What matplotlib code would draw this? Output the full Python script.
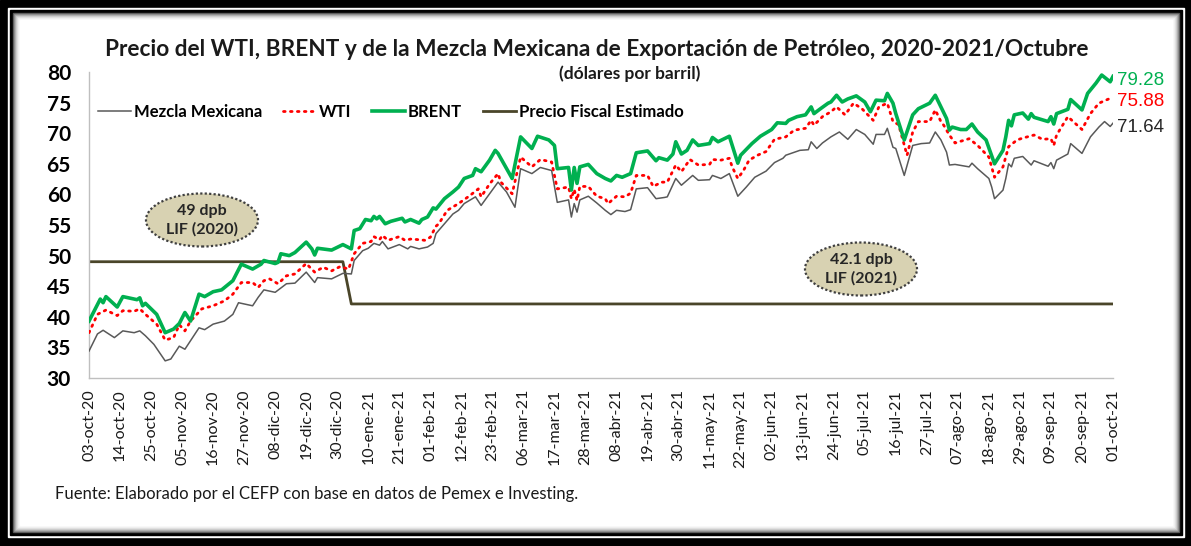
import matplotlib
matplotlib.use("Agg")
import matplotlib.pyplot as plt
from matplotlib.patches import Rectangle, Ellipse

# Datos (dias contados desde el 03-oct-20, precio en dolares por barril)
brent_dias = [0, 4, 5, 6, 10, 12, 17, 18, 19, 20, 24, 27, 30, 32, 34, 36, 39, 41, 44, 47,
              51, 54, 58, 61, 62, 66, 67, 68, 71, 73, 77, 79, 80, 81, 86, 90, 93, 94, 96, 98,
              100, 101, 102, 103, 105, 107, 111, 112, 114, 117, 118, 120, 122, 123, 126, 129, 131, 133, 136, 137,
              139, 142, 144, 145, 150, 153, 157, 159, 163, 165, 166, 170, 171, 172, 173, 174, 177, 180, 183, 185,
              187, 189, 192, 194, 198, 201, 202, 205, 207, 208, 210, 212, 214, 216, 220, 221, 223, 227, 230, 231,
              235, 238, 242, 244, 247, 248, 251, 254, 256, 257, 259, 262, 263, 265, 267, 269, 272, 275, 277, 279,
              282, 283, 285, 286, 289, 292, 294, 298, 300, 302, 304, 305, 306, 309, 311, 313, 315, 318, 321, 324,
              325, 326, 327, 328, 331, 333, 334, 335, 340, 341, 342, 343, 347, 348, 352, 354, 357, 359, 362, 363]
brent = [39.3, 42.9, 42.3, 43.3, 41.6, 43.3, 42.8, 43.1, 41.8, 42.2, 40.4, 37.4, 38.0, 38.9, 40.7, 39.3, 43.7, 43.3, 44.1, 44.4,
         45.9, 48.6, 47.8, 48.6, 49.2, 48.7, 48.9, 50.3, 50.0, 50.5, 52.2, 51.1, 50.1, 51.2, 50.9, 51.8, 51.1, 54.1, 54.4, 55.9,
         55.7, 56.4, 56.0, 56.4, 55.2, 55.6, 56.1, 55.5, 55.9, 55.3, 55.9, 56.3, 57.8, 57.6, 59.3, 60.4, 61.2, 62.6, 63.1, 64.2,
         63.7, 65.6, 67.2, 66.7, 62.6, 69.4, 67.5, 69.5, 68.9, 68.0, 64.2, 64.4, 60.7, 64.4, 61.8, 64.5, 64.9, 63.4, 62.6, 62.2,
         63.1, 62.8, 63.4, 66.8, 67.1, 65.5, 66.0, 65.6, 66.6, 68.6, 66.6, 67.2, 68.9, 68.0, 68.3, 69.3, 68.6, 69.5, 65.1, 66.4,
         68.3, 69.5, 70.6, 71.7, 71.6, 72.1, 72.7, 73.0, 74.3, 73.2, 73.9, 74.9, 75.1, 76.2, 75.1, 75.6, 76.1, 75.1, 73.5, 75.4,
         75.3, 76.5, 74.9, 73.2, 68.9, 73.0, 74.0, 74.9, 76.2, 74.3, 72.4, 70.5, 71.0, 70.6, 70.6, 71.5, 70.2, 68.9, 65.0, 67.2,
         69.4, 72.1, 71.2, 73.0, 73.3, 72.3, 73.2, 72.6, 71.9, 72.7, 71.5, 73.2, 73.9, 75.5, 73.8, 76.5, 78.2, 79.5, 78.4, 79.28]

wti_dias = [0, 3, 6, 10, 12, 16, 18, 20, 24, 27, 30, 32, 34, 36, 40, 44, 48, 51, 54, 58,
            60, 62, 64, 67, 70, 73, 77, 80, 83, 86, 89, 92, 94, 97, 100, 101, 103, 104, 106, 110,
            112, 114, 117, 119, 121, 123, 124, 127, 131, 135, 138, 139, 142, 145, 146, 150, 153, 157, 160, 164,
            166, 170, 171, 172, 173, 174, 177, 180, 183, 184, 187, 190, 192, 194, 198, 200, 203, 205, 208, 210,
            213, 216, 220, 221, 224, 227, 228, 230, 232, 234, 237, 240, 243, 247, 250, 254, 256, 257, 260, 263,
            265, 268, 271, 274, 278, 280, 283, 285, 287, 290, 292, 294, 298, 300, 302, 303, 305, 307, 312, 315,
            319, 321, 324, 326, 329, 331, 335, 338, 341, 342, 343, 347, 352, 355, 358, 361, 363]
wti = [37.4, 40.4, 41.1, 40.2, 41.0, 40.9, 41.3, 40.4, 38.8, 36.2, 36.6, 38.7, 37.7, 39.3, 41.3, 41.8, 42.6, 43.7, 45.6, 45.6,
       44.8, 45.9, 46.2, 45.4, 46.7, 47.0, 48.7, 47.3, 48.1, 47.5, 48.2, 47.8, 50.3, 52.0, 52.3, 53.1, 52.6, 53.3, 52.5, 53.1,
       52.5, 52.7, 52.6, 52.5, 53.0, 54.8, 55.2, 57.4, 58.5, 59.8, 60.9, 59.6, 61.7, 63.4, 62.0, 60.1, 66.1, 64.5, 65.7, 65.3,
       60.9, 61.2, 59.3, 60.8, 59.0, 61.3, 61.3, 59.7, 59.3, 58.5, 59.7, 59.6, 60.2, 63.1, 63.1, 61.3, 62.0, 62.0, 64.8, 63.7,
       65.7, 64.8, 64.9, 65.7, 65.6, 65.9, 64.5, 62.6, 63.9, 65.6, 66.4, 67.0, 69.0, 69.4, 70.5, 70.8, 72.1, 71.3, 72.7, 73.5,
       74.3, 73.0, 74.9, 74.0, 72.1, 74.3, 74.9, 71.9, 71.4, 66.4, 70.2, 71.9, 71.9, 73.8, 71.9, 71.3, 69.7, 68.4, 69.1, 68.0,
       66.1, 62.8, 64.5, 67.8, 68.9, 69.2, 69.7, 69.0, 69.1, 68.0, 69.7, 72.7, 70.6, 73.2, 74.9, 75.5, 75.88]

mezcla_dias = [0, 3, 5, 7, 9, 12, 16, 18, 20, 23, 27, 29, 32, 34, 36, 39, 41, 44, 48, 51,
               53, 58, 60, 62, 66, 70, 73, 77, 80, 81, 86, 90, 93, 94, 97, 99, 101, 103, 104, 106,
               110, 113, 114, 117, 120, 122, 123, 126, 129, 131, 133, 137, 139, 142, 145, 148, 151, 153, 157, 160,
               164, 166, 170, 171, 172, 173, 174, 177, 180, 183, 185, 187, 190, 192, 194, 198, 201, 204, 205, 208,
               210, 214, 216, 220, 221, 224, 227, 230, 233, 236, 240, 243, 246, 247, 252, 255, 256, 258, 260, 263,
               266, 269, 272, 275, 278, 279, 282, 283, 285, 286, 289, 292, 295, 298, 300, 302, 304, 305, 307, 312,
               313, 315, 319, 320, 321, 324, 325, 326, 327, 328, 331, 334, 335, 340, 341, 342, 343, 347, 348, 352,
               355, 358, 360, 362, 363]
mezcla = [34.4, 37.2, 37.8, 37.2, 36.6, 37.7, 37.4, 37.7, 36.9, 35.5, 32.8, 33.1, 35.2, 34.7, 36.1, 38.2, 37.9, 38.8, 39.3, 40.4,
          42.3, 41.8, 43.2, 44.4, 44.0, 45.4, 45.5, 47.3, 45.6, 46.4, 46.2, 47.1, 47.0, 49.2, 50.8, 51.2, 52.0, 51.7, 52.3, 51.1,
          51.8, 51.1, 51.5, 51.1, 51.4, 52.0, 53.6, 55.2, 56.8, 57.4, 58.5, 59.6, 58.2, 60.1, 62.0, 60.4, 57.9, 64.2, 63.4, 64.4,
          63.9, 58.7, 59.1, 56.3, 58.5, 57.1, 59.1, 59.7, 58.6, 57.4, 56.7, 57.4, 57.2, 57.5, 60.9, 61.1, 59.3, 59.5, 59.6, 62.6,
          61.5, 63.1, 62.3, 62.4, 63.1, 62.6, 63.4, 59.7, 61.2, 62.8, 63.8, 65.2, 65.9, 66.4, 67.2, 67.3, 68.6, 67.5, 68.4, 69.4,
          70.2, 69.0, 70.6, 69.8, 68.2, 69.8, 69.8, 70.8, 67.7, 67.5, 63.1, 68.0, 68.3, 68.4, 70.2, 68.9, 66.9, 64.8, 64.9, 64.5,
          65.1, 64.2, 62.6, 61.2, 59.3, 60.7, 62.6, 65.0, 64.5, 65.9, 66.2, 64.8, 65.5, 64.6, 65.2, 64.2, 65.6, 66.6, 68.3, 66.7,
          69.4, 71.0, 71.9, 71.1, 71.64]

fiscal_dias = [0, 90, 93, 363]
fiscal = [49, 49, 42.1, 42.1]

etiquetas = ['03-oct-20', '14-oct-20', '25-oct-20', '05-nov-20', '16-nov-20', '27-nov-20', '08-dic-20',
             '19-dic-20', '30-dic-20', '10-ene-21', '21-ene-21', '01-feb-21', '12-feb-21', '23-feb-21',
             '06-mar-21', '17-mar-21', '28-mar-21', '08-abr-21', '19-abr-21', '30-abr-21', '11-may-21',
             '22-may-21', '02-jun-21', '13-jun-21', '24-jun-21', '05-jul-21', '16-jul-21', '27-jul-21',
             '07-ago-21', '18-ago-21', '29-ago-21', '09-sep-21', '20-sep-21', '01-oct-21']
ticks_y = [30, 35, 40, 45, 50, 55, 60, 65, 70, 75, 80]

verde = '#00b050'
rojo = '#ff0000'
gris = '#595959'
cafe = '#4a4529'
fuente = 'Lato'

W, H = 1191, 546
fig = plt.figure(figsize=(W / 100, H / 100), dpi=100)

def fx(px):
    return px / W

def fy(py):
    return 1 - py / H

# Marco negro con linea doble y sombra
fig.patches.append(Rectangle((0, 0), 1, 1, transform=fig.transFigure, color='black', zorder=-10))
fig.patches.append(Rectangle((fx(8), fy(537)), fx(1184 - 8), 529 / H, transform=fig.transFigure,
                             color='white', zorder=-9))
fig.patches.append(Rectangle((fx(10), fy(535)), fx(1182 - 10), 525 / H, transform=fig.transFigure,
                             color='black', zorder=-8))
sombra = ['#555555', '#888888', '#aaaaaa', '#c8c8c8', '#dddddd', '#eeeeee', '#f7f7f7', 'white']
for i, c in enumerate(sombra):
    x0, y0, x1, y1 = 13 + i, 13 + i, 1179 - i, 532 - i
    fig.patches.append(Rectangle((fx(x0), fy(y1)), fx(x1 - x0), (y1 - y0) / H,
                                 transform=fig.transFigure, color=c, zorder=-7 + i * 0.1))

ax = fig.add_axes([fx(89), fy(378), fx(1113 - 89), (378 - 72) / H])
ax.set_facecolor('none')

ax.plot(mezcla_dias, mezcla, color=gris, lw=1.1, label='Mezcla Mexicana', zorder=3)
ax.plot(wti_dias, wti, color=rojo, lw=2.0, ls=(0, (0.6, 1.9)), dash_capstyle='round',
        label='WTI', zorder=4)
ax.plot(brent_dias, brent, color=verde, lw=2.6, label='BRENT', zorder=5)
ax.plot(fiscal_dias, fiscal, color=cafe, lw=2.0, label='Precio Fiscal Estimado', zorder=2)

ax.set_xlim(0, 363)
ax.set_ylim(30, 80)
ax.set_xticks(range(0, 364, 11))
ax.set_xticklabels(etiquetas, rotation=90, fontsize=11.5, family=fuente, color='#1a1a1a')
ax.set_yticks(ticks_y)
ax.set_yticklabels([str(v) for v in ticks_y], fontsize=15, fontweight='bold', family=fuente)
ax.tick_params(axis='both', length=0)
ax.tick_params(axis='y', pad=13)
ax.tick_params(axis='x', pad=8)
for s in ['top', 'right']:
    ax.spines[s].set_visible(False)
for s in ['left', 'bottom']:
    ax.spines[s].set_color('#bfbfbf')
    ax.spines[s].set_linewidth(1.0)

ley = ax.legend(loc='upper left', bbox_to_anchor=(-0.006, 0.945), ncol=4, frameon=False,
                handlelength=2.0, handletextpad=0.15, columnspacing=1.25,
                prop={'family': fuente, 'weight': 'bold', 'size': 12})

# Valores finales
ax.text(364.5, brent[-1] - 0.7, f'{brent[-1]:.2f}', color=verde, fontsize=13.5, family='Liberation Sans',
        va='center', ha='left', clip_on=False)
ax.text(364.5, wti[-1] - 0.7, f'{wti[-1]:.2f}', color=rojo, fontsize=13.5, family='Liberation Sans',
        va='center', ha='left', clip_on=False)
ax.text(364.5, mezcla[-1] - 0.7, f'{mezcla[-1]:.2f}', color='#262626', fontsize=13.5, family='Liberation Sans',
        va='center', ha='left', clip_on=False)

# Globos del precio fiscal
for cx, cy, txt in [(202, 220, '49 dpb\nLIF (2020)'), (861, 269, '42.1 dpb\nLIF (2021)')]:
    fig.patches.append(Ellipse((fx(cx), fy(cy)), 112 / W, 53 / H, transform=fig.transFigure,
                               facecolor='#d8d2b2', edgecolor='#404040', lw=1.6, ls=(0, (1, 1)),
                               zorder=6))
    fig.text(fx(cx), fy(cy), txt, ha='center', va='center', fontsize=11.5, fontweight='bold',
             family=fuente, color='#262626', linespacing=1.35, zorder=7)

fig.text(fx(597), fy(50), 'Precio del WTI, BRENT y de la Mezcla Mexicana de Exportación de Petróleo, 2020-2021/Octubre',
         ha='center', va='center', fontsize=16.3, fontweight='bold', family=fuente, color='#1a1a1a')
fig.text(fx(630), fy(74), '(dólares por barril)', ha='center', va='center', fontsize=12.5,
         fontweight='bold', family=fuente, color='#1a1a1a')
fig.text(fx(55), fy(494), 'Fuente: Elaborado por el CEFP con base en datos de Pemex e Investing.',
         ha='left', va='center', fontsize=12, family=fuente, color='#1a1a1a')

fig.savefig('out.png', dpi=100)
